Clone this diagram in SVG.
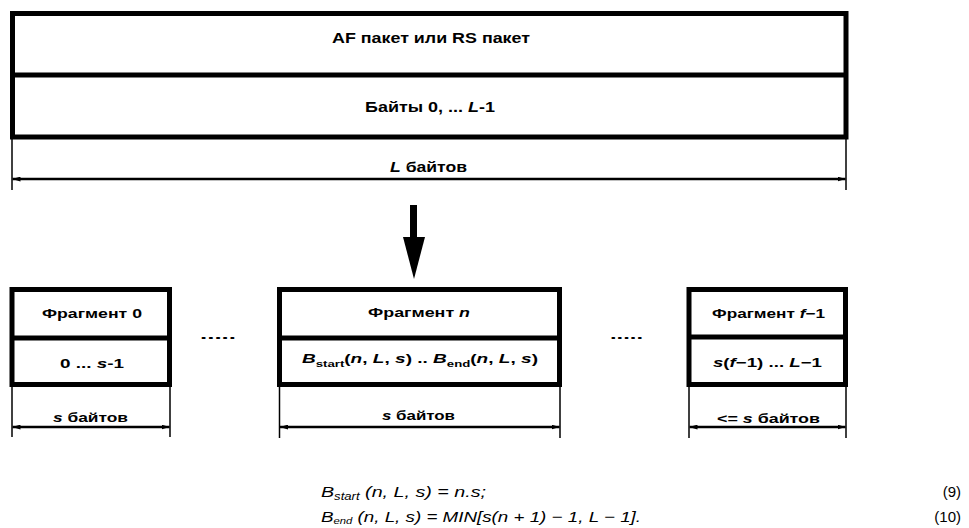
<svg xmlns="http://www.w3.org/2000/svg" width="969" height="528" viewBox="0 0 969 528">
<style>
.box{fill:none;stroke:#000;stroke-width:5}
.div{stroke:#000;stroke-width:5}
.tick{stroke:#000;stroke-width:1.5}
.dim{stroke:#000;stroke-width:2.5;marker-start:url(#ah);marker-end:url(#ah)}
.t{font-family:"Liberation Sans",Arial,sans-serif;font-weight:bold;fill:#000;text-anchor:middle}
.f{font-family:"Liberation Sans",Arial,sans-serif;font-style:italic;fill:#000}
.n{font-family:"Liberation Sans",Arial,sans-serif;fill:#000}
.i{font-style:italic}
</style>
<defs>
<marker id="ah" viewBox="0 0 10 6" refX="10" refY="3" markerWidth="3.2" markerHeight="2" orient="auto-start-reverse" markerUnits="strokeWidth">
<path d="M0,0 L10,3 L0,6 Z" fill="#000"/>
</marker>
</defs>
<rect width="969" height="528" fill="#fff"/>

<g id="packet">
<rect class="box" x="12.5" y="13.5" width="833.5" height="123.5"/>
<line class="div" x1="12.5" y1="75" x2="846" y2="75"/>
<text class="t" x="431" y="43" font-size="15" textLength="198" lengthAdjust="spacingAndGlyphs">AF пакет или RS пакет</text>
<text class="t" x="430" y="112" font-size="15" textLength="130" lengthAdjust="spacingAndGlyphs">Байты 0, ... <tspan class="i">L</tspan>-1</text>
<line class="tick" x1="12" y1="137" x2="12" y2="190"/>
<line class="tick" x1="846" y1="137" x2="846" y2="190"/>
<line class="dim" x1="12.5" y1="179" x2="845.5" y2="179"/>
<text class="t" x="428.5" y="172" font-size="14" textLength="77" lengthAdjust="spacingAndGlyphs"><tspan class="i">L</tspan> байтов</text>
</g>

<g id="connectors">
<rect x="410" y="205" width="7" height="34" fill="#000"/>
<polygon points="403,237 425,237 414,279" fill="#000"/>
</g>

<g id="fragment-0">
<rect class="box" x="12" y="289.5" width="157.5" height="95"/>
<line class="div" x1="12" y1="338" x2="169.5" y2="338"/>
<text class="t" x="92" y="318" font-size="13" textLength="100" lengthAdjust="spacingAndGlyphs">Фрагмент 0</text>
<text class="t" x="92" y="368" font-size="13" textLength="64" lengthAdjust="spacingAndGlyphs">0 ... <tspan class="i">s</tspan>-1</text>
<line class="tick" x1="12" y1="384" x2="12" y2="437"/>
<line class="tick" x1="170" y1="384" x2="170" y2="437"/>
<line class="dim" x1="12.5" y1="427" x2="169.5" y2="427"/>
<text class="t" x="90.5" y="422" font-size="13" textLength="75" lengthAdjust="spacingAndGlyphs"><tspan class="i">s</tspan> байтов</text>
</g>

<g id="dots-1">
<text class="t" x="218" y="339" font-size="12" textLength="36" lengthAdjust="spacingAndGlyphs">.....</text>
</g>

<g id="fragment-n">
<rect class="box" x="279.5" y="289.5" width="280" height="95"/>
<line class="div" x1="279.5" y1="338" x2="559.5" y2="338"/>
<text class="t" x="419" y="317" font-size="13" textLength="102" lengthAdjust="spacingAndGlyphs">Фрагмент <tspan class="i">n</tspan></text>
<text class="t" x="420" y="363" font-size="13" textLength="236" lengthAdjust="spacingAndGlyphs"><tspan class="i">B</tspan><tspan font-size="9" dy="4">start</tspan><tspan dy="-4">(</tspan><tspan class="i">n</tspan>, <tspan class="i">L</tspan>, <tspan class="i">s</tspan>) .. <tspan class="i">B</tspan><tspan font-size="9" dy="4">end</tspan><tspan dy="-4">(</tspan><tspan class="i">n</tspan>, <tspan class="i">L</tspan>, <tspan class="i">s</tspan>)</text>
<line class="tick" x1="279.5" y1="384" x2="279.5" y2="438"/>
<line class="tick" x1="560" y1="384" x2="560" y2="438"/>
<line class="dim" x1="280" y1="427" x2="559.5" y2="427"/>
<text class="t" x="418.5" y="420" font-size="13" textLength="73" lengthAdjust="spacingAndGlyphs"><tspan class="i">s</tspan> байтов</text>
</g>

<g id="dots-2">
<text class="t" x="626.5" y="339" font-size="12" textLength="33" lengthAdjust="spacingAndGlyphs">.....</text>
</g>

<g id="fragment-last">
<rect class="box" x="689" y="289.5" width="156.5" height="95"/>
<line class="div" x1="689" y1="337" x2="845.5" y2="337"/>
<text class="t" x="768.5" y="318" font-size="13" textLength="113" lengthAdjust="spacingAndGlyphs">Фрагмент <tspan class="i">f</tspan>−1</text>
<text class="t" x="767.5" y="367" font-size="13" textLength="109" lengthAdjust="spacingAndGlyphs"><tspan class="i">s</tspan>(<tspan class="i">f</tspan>−1) ... <tspan class="i">L</tspan>−1</text>
<line class="tick" x1="689" y1="384" x2="689" y2="438"/>
<line class="tick" x1="846" y1="384" x2="846" y2="438"/>
<line class="dim" x1="689.5" y1="427" x2="845.5" y2="427"/>
<text class="t" x="768.5" y="423" font-size="13" textLength="103" lengthAdjust="spacingAndGlyphs">&lt;= <tspan class="i">s</tspan> байтов</text>
</g>

<g id="formulas">
<text class="f" x="321" y="497" font-size="15" textLength="165" lengthAdjust="spacingAndGlyphs">B<tspan font-size="10" dy="3">start</tspan><tspan dy="-3"> (n,  L,  s)  =  n.s;</tspan></text>
<text class="n" x="961" y="497" font-size="15" text-anchor="end">(9)</text>
<text class="f" x="321" y="522" font-size="15" textLength="320" lengthAdjust="spacingAndGlyphs">B<tspan font-size="9" dy="2">end</tspan><tspan dy="-2"> (n,  L,  s)  =  MIN[s(n  +  1)  −  1,  L  −  1].</tspan></text>
<text class="n" x="961" y="522" font-size="15" text-anchor="end">(10)</text>
</g>
</svg>
